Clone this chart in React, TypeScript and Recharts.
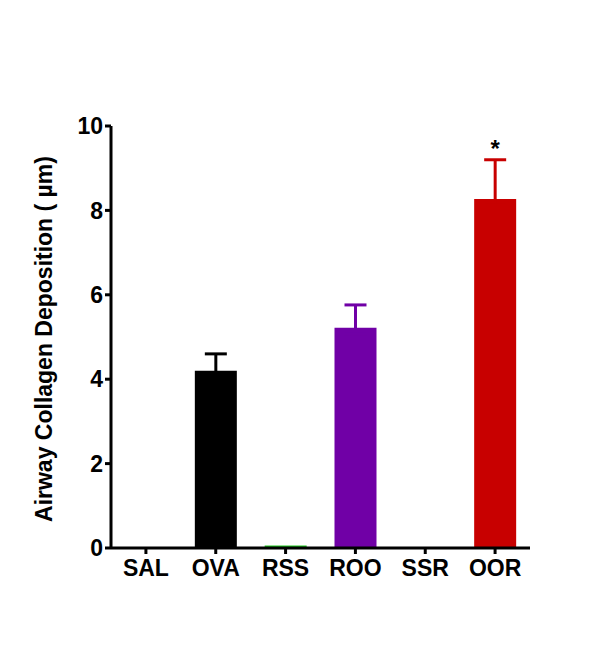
import { BarChart, Bar, XAxis, YAxis, ErrorBar, LabelList } from 'recharts';

const CATEGORIES = ['SAL', 'OVA', 'RSS', 'ROO', 'SSR', 'OOR'];
const MEANS = [0, 4.2, 0.06, 5.22, 0, 8.27];
const SEM = [0, 0.4, 0, 0.54, 0, 0.93];
const COLORS = ['#000000', '#000000', '#22cc22', '#7000a6', '#000000', '#c80000'];
const MARKS = ['', '', '', '', '', '*'];
const Y_TICKS = [0, 2, 4, 6, 8, 10];

const FONT = '"Liberation Sans", Arial, sans-serif';

// one series per group so each error bar can take its bar's colour.
// the lower whisker is tucked inside the bar so only the upper cap shows
const rows = CATEGORIES.map((name, i) => {
  const row: Record<string, any> = { name, mark: MARKS[i] };
  row[`v${i}`] = MEANS[i];
  row[`e${i}`] = [0.15, SEM[i]];
  return row;
});

function YLabel(props: any) {
  const { viewBox } = props;
  const x = viewBox.x + 1;
  const y = viewBox.y + viewBox.height / 2 + 2;
  return (
    <text
      x={x}
      y={y}
      transform={`rotate(-90, ${x}, ${y})`}
      textAnchor="middle"
      fontFamily={FONT}
      fontWeight="bold"
      fontSize={23}
      fill="#000"
    >
      Airway Collagen Deposition ( µm)
    </text>
  );
}

export default function App() {
  return (
    <div style={{ position: 'absolute', left: 0, top: 0, background: '#fff' }}>
      <BarChart
        width={600}
        height={670}
        data={rows}
        margin={{ top: 126, right: 70, left: 51, bottom: 82 }}
      >
        <XAxis
          dataKey="name"
          height={40}
          stroke="#000"
          strokeWidth={3}
          tickSize={6}
          tickMargin={6}
          tick={{ fill: '#000', fontSize: 23, fontWeight: 'bold', fontFamily: FONT }}
        />
        <YAxis
          width={60}
          domain={[0, 10]}
          ticks={Y_TICKS}
          stroke="#000"
          strokeWidth={3}
          tickSize={6}
          tick={{ fill: '#000', fontSize: 23, fontWeight: 'bold', fontFamily: FONT }}
          label={(p: any) => <YLabel {...p} />}
        />
        {CATEGORIES.map((_, i) => (
          <Bar
            key={i}
            dataKey={`v${i}`}
            stackId="s"
            fill={COLORS[i]}
            barSize={42}
            isAnimationActive={false}
          >
            {SEM[i] > 0 && (
              <ErrorBar
                dataKey={`e${i}`}
                width={11}
                stroke={COLORS[i]}
                strokeWidth={3}
                direction="y"
              />
            )}
            {MARKS[i] && (
              <LabelList
                dataKey="mark"
                position="top"
                offset={42}
                fill="#000"
                fontSize={24}
                fontWeight="bold"
                fontFamily={FONT}
              />
            )}
          </Bar>
        ))}
      </BarChart>
    </div>
  );
}
